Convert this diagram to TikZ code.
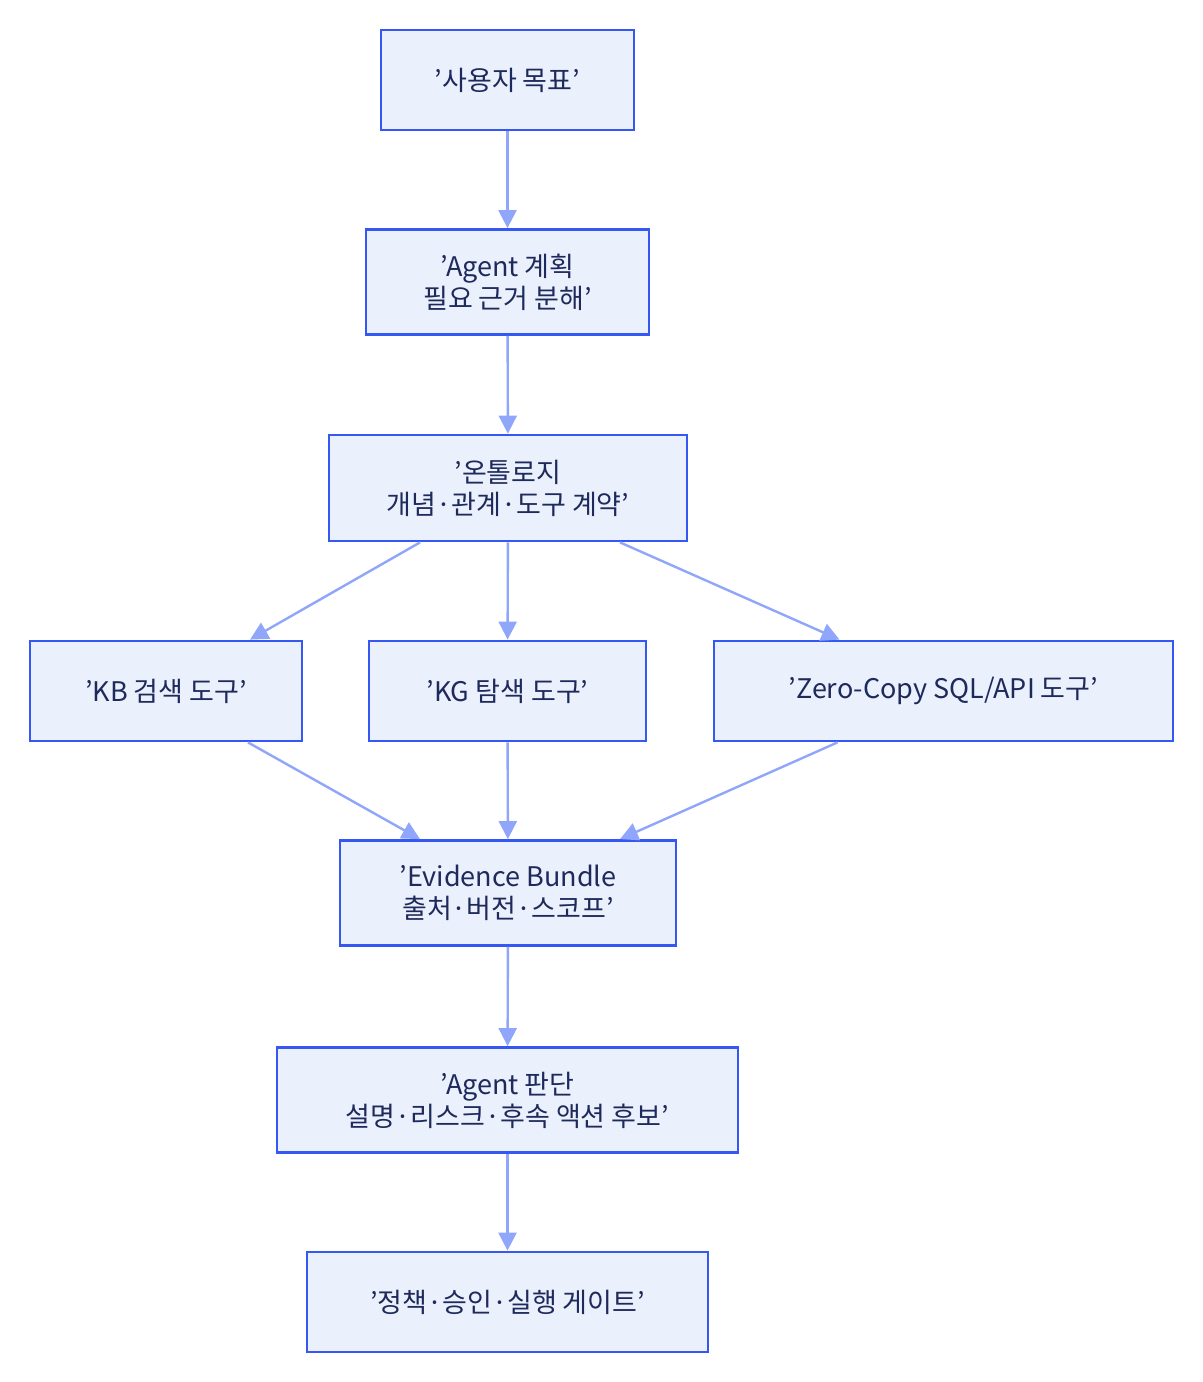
\documentclass[tikz,border=0pt]{standalone}
\usepackage{fontspec}
\setmainfont{Noto Sans CJK KR}
\usetikzlibrary{positioning, arrows.meta, calc}
\definecolor{boxfill}{HTML}{EAF1FD}
\definecolor{boxline}{HTML}{3558F5}
\definecolor{arrowc}{HTML}{8FA6FA}
\definecolor{textc}{HTML}{1F2A5C}
\begin{document}
\begin{tikzpicture}[x=0.5pt, y=-0.5pt,
        box/.style = {draw=boxline, fill=boxfill, line width=1.4pt, text=textc, align=center,
                      font=\fontsize{13.5pt}{16pt}\selectfont, inner sep=0pt, minimum height=50pt},
        arrow/.style = {draw=arrowc, line width=1.2pt, -{Triangle[length=9pt, width=9pt]}}
    ]
        \useasboundingbox (0,0) rectangle (1203,1382);

        \node[box, minimum width=126.5pt] (goal) at (507.5,80) {'사용자 목표'};
        \node[box, minimum width=141.5pt, minimum height=52.5pt] (plan) at (507.5,282) {'Agent 계획\\필요 근거 분해'};
        \node[box, minimum width=179pt, minimum height=53pt] (onto) at (508,488) {'온톨로지\\개념·관계·도구 계약'};

        \node[box, minimum width=136pt] (kb) at (166,691) {'KB 검색 도구'};
        \node[box, minimum width=138.5pt] (kg) at (507.5,691) {'KG 탐색 도구'};
        \node[box, minimum width=229.5pt] (zc) at (943.5,691) {'Zero-Copy SQL/API 도구'};

        \node[box, minimum width=168pt, minimum height=52.5pt] (evid) at (508,893) {'Evidence Bundle\\출처·버전·스코프'};
        \node[box, minimum width=230.5pt, minimum height=52.5pt] (judge) at (507.5,1100) {'Agent 판단\\설명·리스크·후속 액션 후보'};
        \node[box, minimum width=200.5pt] (gate) at (507.5,1302) {'정책·승인·실행 게이트'};

        \draw[arrow] (goal) -- (plan);
        \draw[arrow] (plan) -- (onto);
        \draw[arrow] ($(onto.south)+(-88,0)$) -- ($(kb.north)+(84,0)$);
        \draw[arrow] (onto) -- (kg);
        \draw[arrow] ($(onto.south)+(112,0)$) -- ($(zc.north)+(-104,0)$);
        \draw[arrow] ($(kb.south)+(82,0)$) -- ($(evid.north)+(-88,0)$);
        \draw[arrow] (kg) -- (evid);
        \draw[arrow] ($(zc.south)+(-106,0)$) -- ($(evid.north)+(112,0)$);
        \draw[arrow] (evid) -- (judge);
        \draw[arrow] (judge) -- (gate);

    \end{tikzpicture}
\end{document}
